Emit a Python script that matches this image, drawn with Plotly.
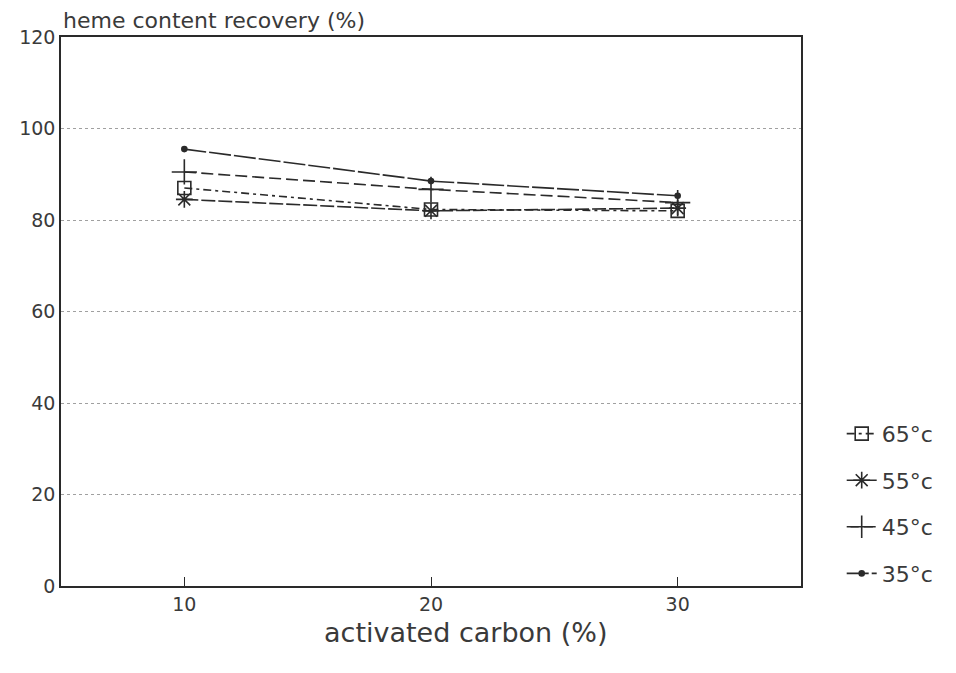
import plotly.graph_objects as go

carbon = [10, 20, 30]
labels = ["65°c", "55°c", "45°c", "35°c"]
t65 = [87.0, 82.3, 82.0]
t55 = [84.5, 82.0, 82.6]
t45 = [90.5, 86.7, 83.8]
t35 = [95.5, 88.5, 85.3]
y_ticks = [0, 20, 40, 60, 80, 100, 120]
x_ticks = [10, 20, 30]

series = [t65, t55, t45, t35]
styles = [
    dict(symbol="square-open", size=13, dash="8px,4px,3px,4px"),
    dict(symbol="asterisk-open", size=14, dash="14px,3px"),
    dict(symbol="cross-thin-open", size=18, dash="12px,5px"),
    dict(symbol="circle", size=5, dash="22px,3px"),
]

ink = "#2a2a2a"
txt = "#3a3a3a"
fam = "DejaVu Sans, Liberation Sans, sans-serif"
fig = go.Figure()
for name, vals, st in zip(labels, series, styles):
    fig.add_trace(go.Scatter(
        x=carbon, y=vals, name=name, mode="lines+markers",
        legendgroup=name,
        line=dict(color=ink, width=1.6, dash=st["dash"]),
        marker=dict(symbol=st["symbol"], size=st["size"], color=ink,
                    line=dict(color=ink, width=1.6)),
    ))

fig.update_layout(
    width=948, height=665,
    margin=dict(l=53, r=155, t=29, b=87, autoexpand=False),
    paper_bgcolor="white", plot_bgcolor="white",
    font=dict(family=fam, color=txt, size=19),
    showlegend=True,
    legend=dict(
        x=1.055, xanchor="left", y=-0.016, yanchor="bottom",
        font=dict(size=22, color=txt, family=fam),
        tracegroupgap=15,
        bgcolor="rgba(0,0,0,0)",
    ),
    xaxis=dict(
        range=[5, 35], tickvals=x_ticks, ticks="inside", ticklen=9,
        tickcolor=ink, showgrid=False, zeroline=False, automargin=False,
        showline=True, linecolor=ink, linewidth=1.5, mirror=True,
        tickfont=dict(size=19, color=txt, family=fam),
    ),
    yaxis=dict(
        range=[0, 120], tickvals=y_ticks, ticks="", showgrid=True, automargin=False,
        gridcolor="#a0a0a0", griddash="dot", gridwidth=1.2, zeroline=False,
        showline=True, linecolor=ink, linewidth=1.5, mirror=True,
        tickfont=dict(size=19, color=txt, family=fam),
    ),
    annotations=[
        dict(
            text="heme content recovery (%)", xref="paper", yref="paper",
            x=0.0, y=1.0, xanchor="left", yanchor="bottom", yshift=2,
            showarrow=False, font=dict(size=22, color=txt, family=fam),
        ),
        dict(
            text="activated carbon (%)", xref="paper", yref="paper",
            x=0.547, y=0.0, xanchor="center", yanchor="middle", yshift=-46,
            showarrow=False, font=dict(size=27, color=txt, family=fam),
        ),
    ],
)

fig.write_html("out.html")
